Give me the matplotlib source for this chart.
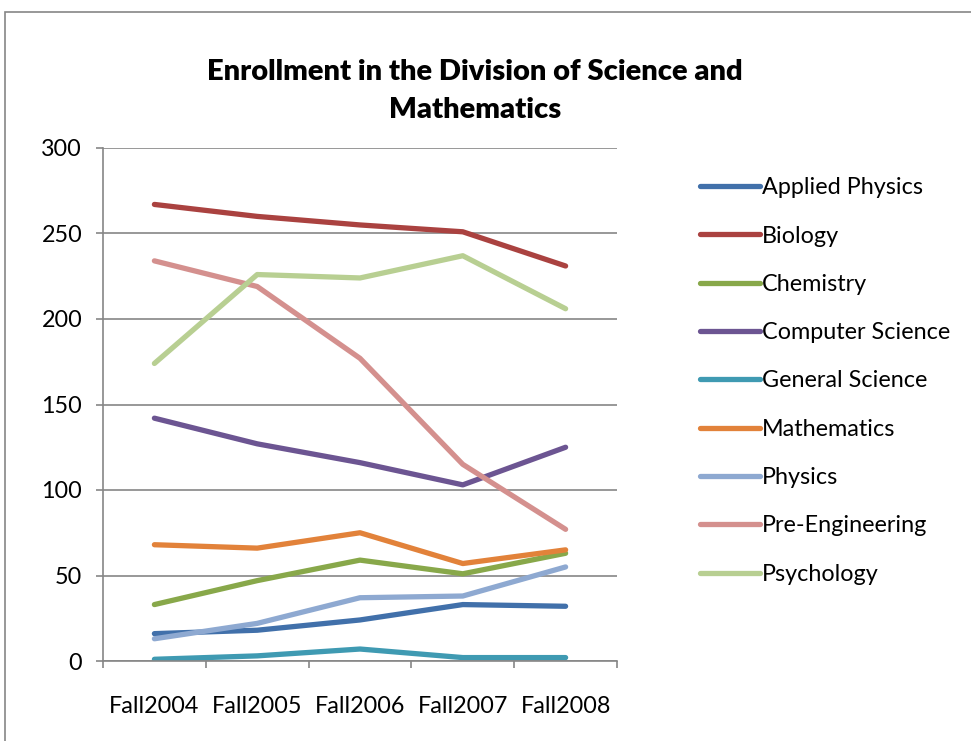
import matplotlib
matplotlib.use("Agg")
import matplotlib.pyplot as plt
from matplotlib.patches import Rectangle
import numpy as np

# data
terms = ["Fall2004", "Fall2005", "Fall2006", "Fall2007", "Fall2008"]
programs = [
    "Applied Physics",
    "Biology",
    "Chemistry",
    "Computer Science",
    "General Science",
    "Mathematics",
    "Physics",
    "Pre-Engineering",
    "Psychology",
]
applied_physics = [16, 18, 24, 33, 32]
biology = [267, 260, 255, 251, 231]
chemistry = [33, 47, 59, 51, 63]
computer_science = [142, 127, 116, 103, 125]
general_science = [1, 3, 7, 2, 2]
mathematics = [68, 66, 75, 57, 65]
physics = [13, 22, 37, 38, 55]
pre_engineering = [234, 219, 177, 115, 77]
psychology = [174, 226, 224, 237, 206]

series = [applied_physics, biology, chemistry, computer_science, general_science,
          mathematics, physics, pre_engineering, psychology]
colors = ["#4170AA", "#AA4240", "#88A84A", "#6C5592", "#3F9AB2",
          "#E2823A", "#8EA9D1", "#D4908E", "#B8CF92"]

plt.rcParams["font.family"] = ["Lato", "DejaVu Sans"]
FS = 16.8
W, H = 971, 741
fig = plt.figure(figsize=(W / 100, H / 100), dpi=100)
fig.patch.set_facecolor("white")

# chart border
fig.patches.append(Rectangle((5 / W, -0.1), 1.2, 1.1 - 12 / H, transform=fig.transFigure,
                             fill=False, edgecolor="#868686", linewidth=1.2))

ax = fig.add_axes([103 / W, 1 - 661 / H, (617 - 103) / W, (661 - 148) / H])
x = np.arange(len(terms))
for name, vals, c in zip(programs, series, colors):
    ax.plot(x, vals, color=c, lw=3.8, label=name,
            solid_capstyle="round", solid_joinstyle="round")

ax.set_xlim(-0.5, len(terms) - 0.5)
ax.set_ylim(0, 300)
ax.set_yticks(range(0, 301, 50))
ax.grid(axis="y", color="#868686", lw=1.2)
ax.set_axisbelow(True)
for s in ["top", "right"]:
    ax.spines[s].set_visible(False)
for s in ["left", "bottom"]:
    ax.spines[s].set_color("#868686")
    ax.spines[s].set_linewidth(1.2)

ax.set_xticks(np.arange(-0.5, len(terms)), [""] * (len(terms) + 1))
ax.set_xticks(x, terms, minor=True)
ax.tick_params(axis="x", which="major", direction="out", length=5, width=1.2, color="#868686")
ax.tick_params(axis="x", which="minor", length=0, pad=25.5, labelsize=FS)
ax.tick_params(axis="y", direction="out", length=5, width=1.2, color="#868686",
               pad=10, labelsize=FS)

fig.text(475 / W, 1 - 72 / H, "Enrollment in the Division of Science and",
         ha="center", va="center", fontsize=21, fontweight="heavy")
fig.text(475 / W, 1 - 110 / H, "Mathematics",
         ha="center", va="center", fontsize=21, fontweight="heavy")

ax.legend(loc="center left", bbox_to_anchor=(679 / W, 1 - 381 / H),
          bbox_transform=fig.transFigure, frameon=False, fontsize=FS,
          handlelength=2.55, handletextpad=0.1, labelspacing=1.17)

fig.savefig("out.png", dpi=100)
